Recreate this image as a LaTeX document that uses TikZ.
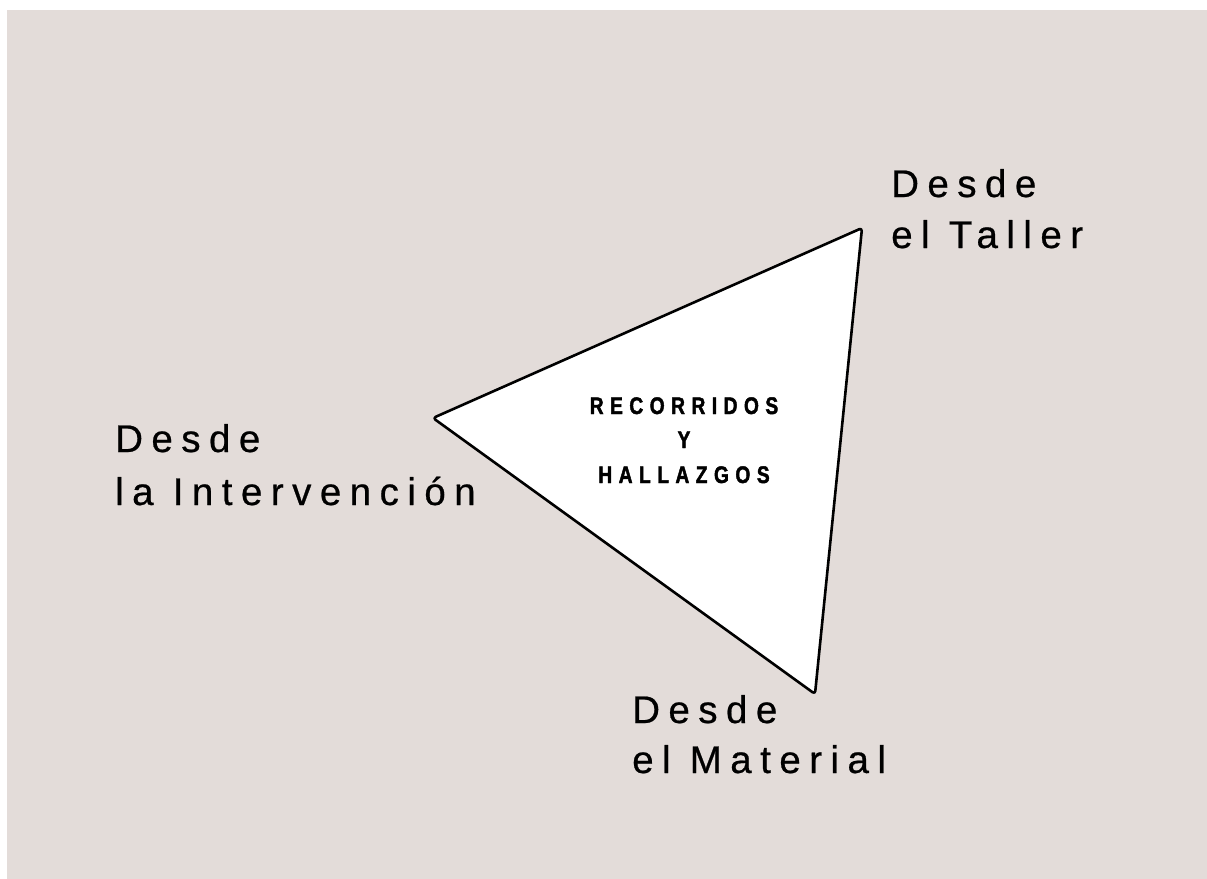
\documentclass[tikz,border=0pt]{standalone}
\usepackage{fontspec}
\setmainfont{Liberation Sans}[LetterSpace=22,FakeBold=0.6]
\newfontfamily\condbold{Liberation Sans}[FakeStretch=0.8,LetterSpace=27,FakeBold=1.8]
\definecolor{bgc}{HTML}{E3DCD9}
\begin{document}
\begin{tikzpicture}[x=1pt,y=-1pt,
  lbl/.style={anchor=base west,inner sep=0pt,font=\fontsize{38.5}{45}\selectfont},
  ctr/.style={anchor=base,inner sep=0pt,font=\condbold\bfseries\fontsize{24}{28}\selectfont},
  tri/.style={draw=black,fill=white,line width=2.6pt,rounded corners=3pt,line join=round}]
\useasboundingbox (0,0) rectangle (1207,878);
\fill[white] (-5,-5) rectangle (1212,883);
\fill[bgc] (7,10) rectangle (1212,883);
\coordinate (t) at (862,228);
\coordinate (l) at (433,418);
\coordinate (b) at (815,694);
\draw[tri] (t) -- (l) -- (b) -- cycle;
\node[ctr] (c1) at (684,414) {RECORRIDOS};
\node[ctr] (c2) at (684,448) {Y};
\node[ctr] (c3) at (684,483) {HALLAZGOS};
\node[lbl] (t1) at (891,197) {Desde};
\node[lbl] (t2) at (891,248) {el Taller};
\node[lbl] (l1) at (115,452) {Desde};
\node[lbl] (l2) at (115,505) {la Intervención};
\node[lbl] (b1) at (632,723) {Desde};
\node[lbl] (b2) at (632,773) {el Material};
\end{tikzpicture}
\end{document}
